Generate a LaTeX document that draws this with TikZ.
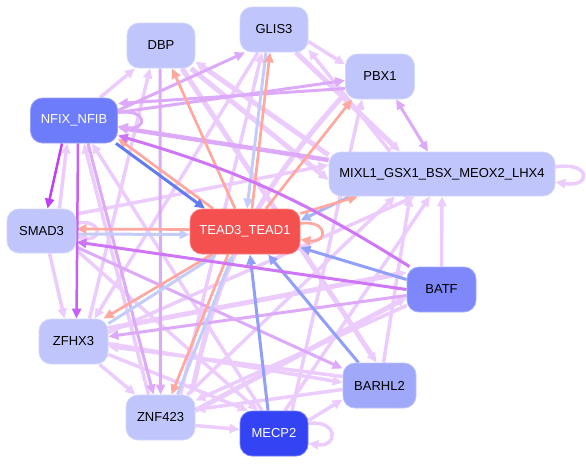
\documentclass[tikz,border=0pt]{standalone}
\usepackage{fontspec}
\setmainfont{Liberation Sans}
\usetikzlibrary{arrows.meta}
\pgfdeclarelayer{edges}
\pgfsetlayers{edges,main}
\definecolor{cL}{RGB}{236,204,252}
\definecolor{cM}{RGB}{221,170,250}
\definecolor{cP}{RGB}{206,118,246}
\definecolor{cS}{RGB}{192,64,246}
\definecolor{cS2}{RGB}{200,96,248}
\definecolor{cR}{RGB}{255,168,160}
\definecolor{cB}{RGB}{144,160,250}
\definecolor{cB2}{RGB}{96,124,240}
\definecolor{cLB}{RGB}{196,204,250}
\definecolor{cBl}{RGB}{168,180,248}
\definecolor{cN}{RGB}{192,197,252}
\definecolor{cNFIX}{RGB}{108,124,250}
\definecolor{cTEAD}{RGB}{244,80,80}
\definecolor{cBATF}{RGB}{126,136,250}
\definecolor{cBARHL}{RGB}{160,168,250}
\definecolor{cMECP}{RGB}{52,68,245}
\tikzset{
  nb/.style={rectangle, rounded corners=12pt, minimum height=45pt, inner sep=0pt,
    line width=0.8pt, text=black},
  nlight/.style={nb, fill=cN, draw=cN!70!white},
  tipA/.style={-{Triangle[length=10pt,width=9pt]}},
  e/.style={tipA, line cap=butt},
  eL/.style={e, draw=cL, line width=3.5pt},
  eLt/.style={e, draw=cL, line width=5pt},
  eM/.style={e, draw=cM, line width=3pt},
  eMt/.style={e, draw=cM, line width=4.5pt},
  eP/.style={e, draw=cP, line width=3pt},
  eS/.style={e, draw=cS, line width=2.5pt},
  eS2/.style={e, draw=cS2, line width=2.5pt},
  eR/.style={e, draw=cR, line width=2.7pt},
  eB/.style={e, draw=cB, line width=3pt},
  eB2/.style={e, draw=cB2, line width=3pt},
  eLB/.style={e, draw=cLB, line width=3pt},
  eBl/.style={e, draw=cBl, line width=3pt},
}
\begin{document}
\begin{tikzpicture}[x=1pt, y=-1pt, font=\fontsize{13}{15}\selectfont]
\useasboundingbox (0,0) rectangle (586,463);
% nodes
\node[nlight, minimum width=68pt] (DBP) at (161,45.5) {DBP};
\node[nlight, minimum width=68pt] (GLIS3) at (274,29.5) {GLIS3};
\node[nlight, minimum width=69pt] (PBX1) at (380,76.5) {PBX1};
\node[nb, minimum width=87pt, fill=cNFIX, draw=cNFIX!70!white, text=white] (NFIX) at (74,120.5) {NFIX\_NFIB};
\node[nlight, minimum width=226pt, minimum height=44pt] (MIXL1) at (442,174) {MIXL1\_GSX1\_BSX\_MEOX2\_LHX4};
\node[nlight, minimum width=69pt, minimum height=44pt] (SMAD3) at (41.5,231) {SMAD3};
\node[nb, minimum width=110pt, fill=cTEAD, draw=cTEAD!70!white, text=white] (TEAD3) at (245,231.5) {TEAD3\_TEAD1};
\node[nb, minimum width=69pt, fill=cBATF, draw=cBATF!70!white] (BATF) at (441.5,289.5) {BATF};
\node[nlight, minimum width=69pt] (ZFHX3) at (73.5,341.5) {ZFHX3};
\node[nb, minimum width=73pt, fill=cBARHL, draw=cBARHL!70!white] (BARHL2) at (379.5,385.5) {BARHL2};
\node[nlight, minimum width=69pt] (ZNF423) at (160.5,417.5) {ZNF423};
\node[nb, minimum width=68pt, fill=cMECP, draw=cMECP!70!white, text=white] (MECP2) at (274,433.5) {MECP2};

\begin{pgfonlayer}{edges}
% light edges
\draw[eL] ([xshift=26]NFIX.north) -- ([xshift=-26]DBP.south);
\draw[eL] ([xshift=18]SMAD3.north) -- ([xshift=-7]NFIX.south);
\draw[eL] ([xshift=-12]MECP2.north) -- ([xshift=18]NFIX.south);
\draw[eL] ([xshift=-12]ZNF423.north) -- ([xshift=10]NFIX.south);
\draw[eL] ([xshift=8]SMAD3.south) -- ([xshift=-9]ZFHX3.north);
\draw[eL] ([yshift=17]SMAD3.east) -- ([yshift=9]MIXL1.west);
\draw[eL] ([yshift=-19]SMAD3.east) -- ([xshift=-16]MECP2.north);
\draw[eL] ([yshift=8]SMAD3.east) .. controls +(26pt,4pt) and +(26pt,-4pt) .. ([yshift=-6]SMAD3.east);
\draw[eL] ([xshift=-16]GLIS3.south) -- ([xshift=21]ZFHX3.north);
\draw[eL] ([yshift=9]BARHL2.west) -- ([yshift=-5]ZFHX3.east);
\draw[eL] ([xshift=26]ZFHX3.south) -- ([xshift=-25]ZNF423.north);
\draw[eL] ([yshift=-13]ZFHX3.east) -- ([xshift=-26]MECP2.north);
\draw[eLt] ([yshift=13]ZFHX3.east) -- ([yshift=17]BATF.west);
\draw[eL] ([xshift=16]ZFHX3.north) -- ([xshift=-11]DBP.south);
\draw[eL] ([yshift=-2]ZFHX3.east) -- ([yshift=3]BARHL2.west);
\draw[eL] ([yshift=9]ZFHX3.east) -- ([xshift=-27]MIXL1.south);
\draw[eL] ([yshift=-8]ZNF423.east) -- ([yshift=4]MECP2.west);
\draw[eL] ([yshift=-4]BARHL2.west) -- ([yshift=8]ZNF423.east);
\draw[eL] ([yshift=-16]BATF.west) -- ([yshift=17]ZNF423.east);
\draw[eL] ([xshift=27]ZNF423.north) -- ([xshift=-47]MIXL1.south);
\draw[eL] ([xshift=20]ZNF423.north) -- ([xshift=-12]GLIS3.south);
\draw[eLt] ([yshift=-17]PBX1.west) to[bend right=15] ([xshift=31]ZNF423.north);
\draw[eLt] ([yshift=7]ZNF423.east) -- ([yshift=-8]BATF.west);
\draw[eL] ([yshift=13]MECP2.east) -- ([yshift=-14]BARHL2.west);
\draw[eL] ([xshift=11]MECP2.north) -- ([xshift=-12]MIXL1.south);
\draw[eL] ([xshift=18]MECP2.north) -- ([xshift=-18]PBX1.south);
\draw[eL] ([yshift=10]MECP2.east) .. controls +(30pt,4pt) and +(30pt,-4pt) .. ([yshift=-10]MECP2.east);
\draw[eLt] ([xshift=21]DBP.south) -- ([xshift=-3]BARHL2.north);
\draw[eL] ([xshift=4]BARHL2.north) -- ([xshift=-32]MIXL1.south);
\draw[eL] (BATF.north) -- (MIXL1.south);
\draw[eLt] ([xshift=22]GLIS3.south) -- ([xshift=-42]MIXL1.north);
\draw[eL] ([xshift=-52]MIXL1.north) -- ([yshift=-20]GLIS3.east);
\draw[eLt] ([yshift=19]MIXL1.west) -- ([yshift=-16]DBP.east);
\draw[eLt] ([xshift=30]DBP.south) -- ([yshift=-6]MIXL1.west);
\draw[eL] ([yshift=7]MIXL1.east) .. controls +(36pt,6pt) and +(36pt,-6pt) .. ([yshift=-8]MIXL1.east);
\draw[eL] ([yshift=-12]GLIS3.east) -- ([yshift=12]PBX1.west);
% medium edges
\draw[eM] ([yshift=10]NFIX.east) -- ([xshift=-29]GLIS3.south);
\draw[eM] ([yshift=-12]PBX1.west) -- ([yshift=17]NFIX.east);
\draw[eM] ([yshift=8]NFIX.east) -- ([yshift=-4]PBX1.west);
\draw[eMt] ([yshift=14]MIXL1.west) -- ([yshift=-7]NFIX.east);
\draw[eM] ([yshift=8]NFIX.east) .. controls +(30pt,4pt) and +(30pt,-4pt) .. ([yshift=-6]NFIX.east);
\draw[eM] ([xshift=14]NFIX.south) -- ([xshift=-7]ZNF423.north);
\draw[eM] ([yshift=-16]SMAD3.east) -- ([yshift=17]BARHL2.west);
\draw[eM] ([yshift=-6]BATF.west) -- ([yshift=5]ZFHX3.east);
\draw[eM] ([xshift=-1]DBP.south) -- (ZNF423.north);
\draw[eM, {Triangle[length=10pt,width=9pt]}-{Triangle[length=10pt,width=9pt]}] ([xshift=16]PBX1.south) -- ([xshift=-14]MIXL1.north);
% light blue
\draw[eLB] ([yshift=-3]SMAD3.east) -- ([yshift=-3]TEAD3.west);
\draw[eLB] ([yshift=18]ZFHX3.east) -- ([xshift=-28]TEAD3.south);
\draw[eLB] ([xshift=17]ZNF423.north) -- ([xshift=-12]TEAD3.south);
\draw[eLB] ([xshift=-8]GLIS3.south) -- ([xshift=2]TEAD3.north);
\draw[eBl] ([xshift=-92]MIXL1.south) -- ([yshift=11]TEAD3.east);
% salmon
\draw[eR] ([xshift=-32]TEAD3.north) -- ([yshift=-18]NFIX.east);
\draw[eR] ([yshift=2]TEAD3.west) -- ([yshift=2]SMAD3.east);
\draw[eR] ([xshift=-33]TEAD3.south) -- ([xshift=30]ZFHX3.north);
\draw[eR] ([xshift=-17]TEAD3.south) -- ([xshift=11]ZNF423.north);
\draw[eR] ([yshift=18]TEAD3.east) -- ([xshift=-84]MIXL1.south);
\draw[eR] ([xshift=21]TEAD3.north) -- ([xshift=-28]PBX1.south);
\draw[eR] ([xshift=-10]TEAD3.north) -- ([xshift=11]DBP.south);
\draw[eR] ([xshift=7]TEAD3.north) -- ([xshift=-4]GLIS3.south);
\draw[eR] ([yshift=8]TEAD3.east) .. controls +(28pt,4pt) and +(28pt,-4pt) .. ([yshift=-8]TEAD3.east);
% blue
\draw[eB2] ([xshift=42]NFIX.south) -- ([xshift=-40]TEAD3.north);
\draw[eB] ([xshift=-6]MECP2.north) -- ([xshift=5]TEAD3.south);
\draw[eB] ([xshift=-21]BARHL2.north) -- ([xshift=23]TEAD3.south);
\draw[eB] ([yshift=10]BATF.west) -- ([yshift=-16]TEAD3.east);
% purple
\draw[eP] ([xshift=-32]BATF.north) to[bend right=8] ([yshift=-15]NFIX.east);
\draw[eP] (BATF.west) -- ([yshift=-11]SMAD3.east);
\draw[eS] ([xshift=-12]NFIX.south) -- ([xshift=6]SMAD3.north);
\draw[eS2] ([xshift=4]NFIX.south) -- ([xshift=3]ZFHX3.north);
\end{pgfonlayer}
\end{tikzpicture}
\end{document}
